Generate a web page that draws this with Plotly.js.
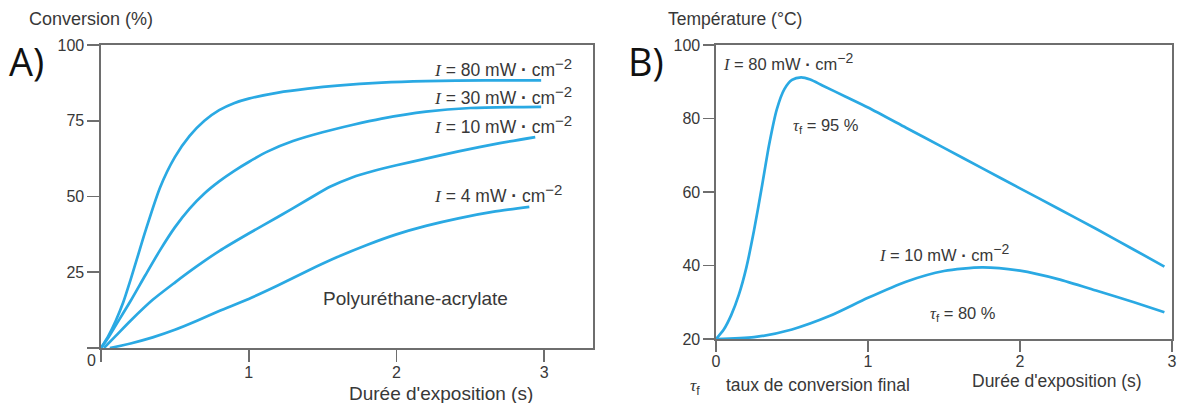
<!DOCTYPE html>
<html>
<head>
<meta charset="utf-8">
<script src="https://cdn.plot.ly/plotly-3.0.1.min.js"></script>
<style>html,body{margin:0;padding:0;background:#fff;}#chart{width:1177px;height:403px;}</style>
</head>
<body>
<div id="chart"></div>
<script>
// ---- Panel A : conversion (%) vs exposure time (s)
const tA80 = [0, 0.05, 0.1, 0.15, 0.2, 0.25, 0.3, 0.4, 0.5, 0.6, 0.7, 0.8, 0.9, 1.0, 1.2, 1.4, 1.6, 1.9, 2.2, 2.6, 2.98];
const cA80 = [0, 4, 9, 15, 22.5, 30.5, 38.5, 53, 63, 70, 75, 78.5, 80.8, 82.3, 84.3, 85.6, 86.6, 87.6, 88.1, 88.3, 88.3];
const tA30 = [0, 0.05, 0.1, 0.2, 0.3, 0.4, 0.5, 0.6, 0.7, 0.8, 0.9, 1.0, 1.13, 1.3, 1.5, 1.7, 1.9, 2.2, 2.5, 2.98];
const cA30 = [0, 3.5, 7.5, 15.5, 24, 32.3, 39.8, 46, 51, 55, 58.4, 61.4, 64.9, 68.3, 71.2, 73.6, 75.7, 78, 79.2, 79.6];
const tA10 = [0.02, 0.1, 0.2, 0.35, 0.5, 0.65, 0.8, 1.0, 1.2, 1.4, 1.55, 1.7, 1.85, 2.0, 2.2, 2.42, 2.7, 2.94];
const cA10 = [0, 4, 9, 15.9, 21.6, 27, 32, 37.8, 43.3, 49, 53.2, 56.3, 58.5, 60.3, 62.5, 64.9, 67.6, 69.6];
const tA4  = [0.06, 0.2, 0.35, 0.5, 0.65, 0.8, 1.0, 1.2, 1.4, 1.6, 1.8, 2.0, 2.2, 2.42, 2.65, 2.9];
const cA4  = [0, 1.5, 3.5, 6, 9, 12.2, 16.2, 20.7, 25.5, 30, 34, 37.5, 40.3, 42.8, 44.9, 46.6];

// ---- Panel B : temperature (°C) vs exposure time (s)
const tB80 = [0, 0.05, 0.1, 0.15, 0.2, 0.25, 0.3, 0.35, 0.4, 0.45, 0.5, 0.56, 0.62, 0.7, 0.85, 1.0, 1.25, 1.5, 1.75, 2.0, 2.25, 2.5, 2.75, 2.95];
const TB80 = [20, 22.5, 26.5, 32, 39.5, 49.5, 61, 73, 82.5, 88, 90.5, 91.2, 90.6, 89, 86, 83, 77.5, 72, 66.5, 61, 55.5, 50, 44.3, 39.7];
const tB10 = [0, 0.25, 0.5, 0.75, 1.0, 1.25, 1.5, 1.75, 2.0, 2.25, 2.5, 2.75, 2.95];
const TB10 = [20, 20.5, 22.6, 26.3, 31.2, 35.6, 38.5, 39.5, 38.6, 36.3, 33.2, 30, 27.3];

// ---- tick labels
const xTickValsA = [0, 1, 2, 3];
const xTickTextA = ['', '1', '2', '3'];
const yTickValsA = [0, 25, 50, 75, 100];
const yTickTextA = ['', '25', '50', '75', '100'];
const xTickValsB = [0, 1, 2, 3];
const xTickTextB = ['0', '1', '2', '3'];
const yTickValsB = [20, 40, 60, 80, 100];
const yTickTextB = ['20', '40', '60', '80', '100'];

// ---- curve labels
const intensA = ['80', '30', '10', '4'];
const intensB = ['80', '10'];
const tauB = ['95', '80'];

const BLUE = '#2aa9e3';
const AX = '#6e6e6e';
const TXT = '#383838';
const FONT = 'Liberation Sans, Arial, sans-serif';
const W = 1177, H = 403;
const px = x => x / W;
const py = y => 1 - y / H;

function line(x, y, xa, ya) {
  return {x: x, y: y, xaxis: xa, yaxis: ya, mode: 'lines', type: 'scatter',
          line: {color: BLUE, width: 2.7, shape: 'spline', smoothing: 0.7},
          hoverinfo: 'skip', showlegend: false};
}

const traces = [
  line(tA80, cA80, 'x', 'y'),
  line(tA30, cA30, 'x', 'y'),
  line(tA10, cA10, 'x', 'y'),
  line(tA4, cA4, 'x', 'y'),
  line(tB80, TB80, 'x2', 'y2'),
  line(tB10, TB10, 'x2', 'y2')
];

function axis(extra) {
  return Object.assign({
    showline: true, linecolor: AX, linewidth: 1.6, mirror: true,
    ticks: 'outside', ticklen: 12, tickwidth: 1.6, tickcolor: AX,
    showgrid: false, zeroline: false, fixedrange: true,
    tickfont: {family: FONT, size: 16, color: TXT}
  }, extra);
}

const Ivar = '<span style="font-family:\'Liberation Serif\',serif;font-style:italic">I</span>';
const tau = '<span style="font-family:\'Liberation Serif\',serif;font-style:italic">τ</span><sub>f</sub>';
const intensLabel = (v, s) => Ivar + ' = ' + v + ' mW <b>·</b> cm<sup><span style="font-size:' + s + 'px">−2</span></sup>';
const tauLabel = v => tau + ' = ' + v + ' %';

function ann(text, x, y, xanchor, size, extra) {
  return Object.assign({text: text, x: x, y: y, xref: 'paper', yref: 'paper',
    xanchor: xanchor, yanchor: 'middle', showarrow: false,
    font: {family: FONT, size: size, color: TXT}}, extra || {});
}

const annotations = [
  ann('A)', px(7), py(61), 'left', 38, {font: {family: 'Open Sans, sans-serif', size: 38, color: '#111'}}),
  ann('B)', px(626), py(61), 'left', 38, {font: {family: 'Open Sans, sans-serif', size: 38, color: '#111'}}),
  ann('Conversion (%)', px(27), py(19), 'left', 18),
  ann('Température (°C)', px(666), py(19), 'left', 17.5),
  ann('0', px(91), py(360), 'center', 16),
  ann('Durée d\'exposition (s)', px(347), py(393), 'left', 19),
  ann('Durée d\'exposition (s)', px(970), py(381), 'left', 17.5),
  ann(tau + '\u2003\u2002taux de conversion final', px(688), py(386), 'left', 17.5),
  ann('Polyuréthane-acrylate', px(415), py(298), 'center', 19),
  ann(intensLabel(intensA[0], 15), px(574), py(67), 'right', 17.5),
  ann(intensLabel(intensA[1], 15), px(574), py(95), 'right', 17.5),
  ann(intensLabel(intensA[2], 15), px(574), py(125), 'right', 17.5),
  ann(intensLabel(intensA[3], 15), px(564), py(193), 'right', 17.5),
  ann(intensLabel(intensB[0], 14), px(721), py(62), 'left', 16.5),
  ann(tauLabel(tauB[0]), px(791), py(126), 'left', 16.5),
  ann(intensLabel(intensB[1], 14), px(877), py(253), 'left', 16.5),
  ann(tauLabel(tauB[1]), px(928), py(314), 'left', 16.5)
];

const layout = {
  width: W, height: H,
  margin: {l: 0, r: 0, t: 0, b: 0},
  paper_bgcolor: '#fff', plot_bgcolor: '#fff',
  showlegend: false,
  xaxis: axis({domain: [px(101), px(593)], range: [0, 3.331], anchor: 'y',
               tickvals: xTickValsA, ticktext: xTickTextA, ticklabelstandoff: -3}),
  yaxis: axis({domain: [py(348), py(45)], range: [0, 100], anchor: 'x',
               tickvals: yTickValsA, ticktext: yTickTextA}),
  xaxis2: axis({domain: [px(716), px(1172)], range: [0, 3], anchor: 'y2', ticklen: 11,
                tickvals: xTickValsB, ticktext: xTickTextB, ticklabelstandoff: -4}),
  yaxis2: axis({domain: [py(339), py(45)], range: [20, 100], anchor: 'x2', ticklen: 11,
                tickvals: yTickValsB, ticktext: yTickTextB}),
  annotations: annotations
};

Plotly.newPlot('chart', traces, layout, {staticPlot: true, displayModeBar: false});
</script>
</body>
</html>
